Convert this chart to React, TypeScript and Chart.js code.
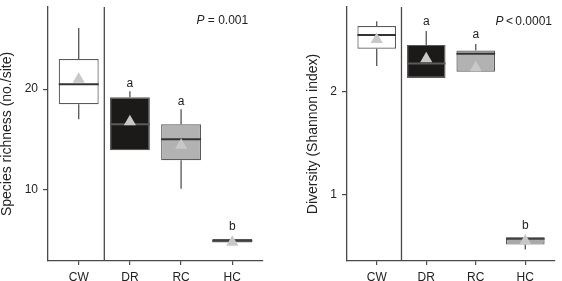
import React, { useEffect, useRef } from "react";
import { Chart, registerables } from "chart.js";

Chart.register(...registerables);
Chart.defaults.font.family = '"Liberation Sans", Arial, sans-serif';

const categories = ["CW", "DR", "RC", "HC"];

// Panel 1: species richness (no./site)
const richMin = [17.0, 13.9, 10.05, 4.69];
const richQ1 = [18.5, 13.9, 12.9, 4.69];
const richMedian = [20.5, 16.5, 15.0, 4.88];
const richQ3 = [23.0, 19.2, 16.5, 5.05];
const richMax = [26.1, 19.8, 18.0, 5.05];
const richMean = [21.0, 16.75, 14.4, 4.72];
const richLetters = ["", "a", "a", "b"];
const richLetterY = [0, 20.19, 18.38, 5.98];
const richTicks = [10, 20];

// Panel 2: diversity (Shannon index)
const divMin = [2.248, 2.132, 2.194, 0.472];
const divQ1 = [2.415, 2.132, 2.194, 0.519];
const divMedian = [2.55, 2.274, 2.368, 0.575];
const divQ3 = [2.635, 2.453, 2.399, 0.591];
const divMax = [2.682, 2.588, 2.462, 0.591];
const divMean = [2.505, 2.319, 2.231, 0.553];
const divLetters = ["", "a", "a", "b"];
const divLetterY = [0, 2.644, 2.519, 0.666];
const divTicks = [1, 2];

const FONT = '"Liberation Sans", Arial, sans-serif';
const TEXT = "#222";
const AXIS = "#4a4a4a";
const BOX_FILLS = ["#ffffff", "#1c1919", "#b2b2b2", "#a9a9a9"];
const MEDIAN_COLORS = ["#333333", "#5a5a5a", "#333333", "#404040"];
const HALF = 0.39;

type Panel = {
  min: number[]; q1: number[]; median: number[]; q3: number[]; max: number[]; mean: number[];
  letters: string[]; letterY: number[]; ticks: number[];
  yMin: number; yMax: number; title: string; titlePad: number; yWidth: number; padRight: number;
  pX: number; pY: number; pRest: string;
};

const panels: { panel: Panel; left: number; width: number }[] = [
  {
    left: 0,
    width: 281,
    panel: {
      min: richMin, q1: richQ1, median: richMedian, q3: richQ3, max: richMax, mean: richMean,
      letters: richLetters, letterY: richLetterY, ticks: richTicks,
      yMin: 2.85, yMax: 28.2, title: "Species richness (no./site)", titlePad: 0.5, yWidth: 48, padRight: 18,
      pX: 3.31, pY: 26.8, pRest: " = 0.001",
    },
  },
  {
    left: 281,
    width: 281,
    panel: {
      min: divMin, q1: divQ1, median: divMedian, q3: divQ3, max: divMax, mean: divMean,
      letters: divLetters, letterY: divLetterY, ticks: divTicks,
      yMin: 0.36, yMax: 2.82, title: "Diversity (Shannon index)", titlePad: 24.7, yWidth: 66, padRight: 0,
      pX: 3.54, pY: 2.68, pRest: "\u2009<\u20090.0001",
    },
  },
];

function makeConfig(p: Panel): any {
  const datasets: any[] = [];
  datasets.push({
    type: "line",
    data: p.mean.map((v, i) => ({ x: i, y: v })),
    showLine: false,
    pointStyle: "triangle",
    pointRadius: 7,
    pointBackgroundColor: "#c8c8c8",
    pointBorderWidth: 0,
    order: 0,
  });
  p.median.forEach((v, i) => {
    datasets.push({
      type: "line",
      data: [{ x: i - HALF, y: v }, { x: i + HALF, y: v }],
      borderColor: MEDIAN_COLORS[i],
      borderWidth: 2,
      pointRadius: 0,
      order: 1,
    });
  });
  const whisk: any[] = [];
  p.q1.forEach((_, i) => {
    whisk.push({ x: i, y: p.q3[i] }, { x: i, y: p.max[i] }, { x: i, y: null });
    whisk.push({ x: i, y: p.min[i] }, { x: i, y: p.q1[i] }, { x: i, y: null });
  });
  datasets.push({
    type: "line",
    data: whisk,
    borderColor: "#555555",
    borderWidth: 1.3,
    pointRadius: 0,
    spanGaps: false,
    order: 2,
  });
  datasets.push({
    type: "bar",
    data: p.q1.map((v, i) => ({ x: i, y: [v, p.q3[i]] })),
    backgroundColor: BOX_FILLS,
    borderColor: "#5a5a5a",
    borderWidth: 1.2,
    borderSkipped: false,
    categoryPercentage: 0.78,
    barPercentage: 1,
    order: 3,
  });
  datasets.push({
    type: "line",
    data: [{ x: 0.5, y: p.yMin }, { x: 0.5, y: p.yMax }],
    borderColor: AXIS,
    borderWidth: 1.3,
    pointRadius: 0,
    order: 4,
  });

  const annots = {
    id: "annots",
    afterDatasetsDraw(chart: any) {
      const { ctx, scales } = chart;
      const x = scales.x, y = scales.y;
      ctx.save();
      ctx.fillStyle = TEXT;
      ctx.font = `12px ${FONT}`;
      ctx.textAlign = "center";
      ctx.textBaseline = "alphabetic";
      p.letters.forEach((l, i) => {
        if (l) ctx.fillText(l, x.getPixelForValue(i), y.getPixelForValue(p.letterY[i]));
      });
      const px = x.getPixelForValue(p.pX);
      const py = y.getPixelForValue(p.pY);
      ctx.textAlign = "left";
      ctx.textBaseline = "middle";
      ctx.font = `12px ${FONT}`;
      const wRest = ctx.measureText(p.pRest).width;
      ctx.font = `italic 12px ${FONT}`;
      const wP = ctx.measureText("P").width;
      const start = px - wRest - wP;
      ctx.fillText("P", start, py);
      ctx.font = `12px ${FONT}`;
      ctx.fillText(p.pRest, start + wP, py);
      ctx.restore();
    },
  };

  return {
    type: "bar",
    data: { datasets },
    options: {
      animation: false,
      responsive: false,
      layout: { padding: { left: 0, top: 0, bottom: 0, right: p.padRight } },
      plugins: { legend: { display: false }, tooltip: { enabled: false } },
      events: [],
      scales: {
        x: {
          type: "linear",
          min: -0.6,
          max: 3.6,
          offset: false,
          afterBuildTicks: (s: any) => {
            s.ticks = categories.map((_, i) => ({ value: i }));
          },
          afterFit: (s: any) => {
            s.height = 20;
            s.paddingLeft = 0;
            s.paddingRight = 0;
          },
          ticks: {
            callback: (_v: any, i: number) => categories[i],
            font: { size: 12 },
            color: TEXT,
            padding: 5,
            autoSkip: false,
            maxRotation: 0,
          },
          grid: { display: true, offset: false, drawOnChartArea: false, drawTicks: true, tickLength: 4, color: AXIS, lineWidth: 1.2 },
          border: { display: true, color: AXIS, width: 1.3 },
        },
        y: {
          type: "linear",
          min: p.yMin,
          max: p.yMax,
          afterBuildTicks: (s: any) => {
            s.ticks = p.ticks.map((v) => ({ value: v }));
          },
          afterFit: (s: any) => {
            s.width = p.yWidth;
            s.paddingTop = 0;
            s.paddingBottom = 0;
          },
          ticks: { font: { size: 12 }, color: TEXT, padding: 5 },
          grid: { display: true, offset: false, drawOnChartArea: false, drawTicks: true, tickLength: 5, color: AXIS, lineWidth: 1.2 },
          border: { display: true, color: AXIS, width: 1.3 },
          title: {
            display: true,
            text: p.title,
            color: TEXT,
            font: { size: 14, lineHeight: 1 },
            padding: { top: p.titlePad, bottom: 0 },
          },
        },
      },
    },
    plugins: [annots],
  };
}

function PanelChart({ panel, left, width }: { panel: Panel; left: number; width: number }) {
  const ref = useRef<HTMLCanvasElement>(null);
  useEffect(() => {
    const chart = new Chart(ref.current as HTMLCanvasElement, makeConfig(panel));
    return () => chart.destroy();
  }, [panel]);
  return (
    <div style={{ position: "absolute", left, top: 0, width, height: 281 }}>
      <canvas ref={ref} width={width} height={281} style={{ width, height: 281, display: "block" }} />
    </div>
  );
}

export default function App() {
  return (
    <div style={{ position: "fixed", left: 0, top: 0, width: 562, height: 281, background: "#fff" }}>
      {panels.map((p, i) => (
        <PanelChart key={i} panel={p.panel} left={p.left} width={p.width} />
      ))}
    </div>
  );
}
